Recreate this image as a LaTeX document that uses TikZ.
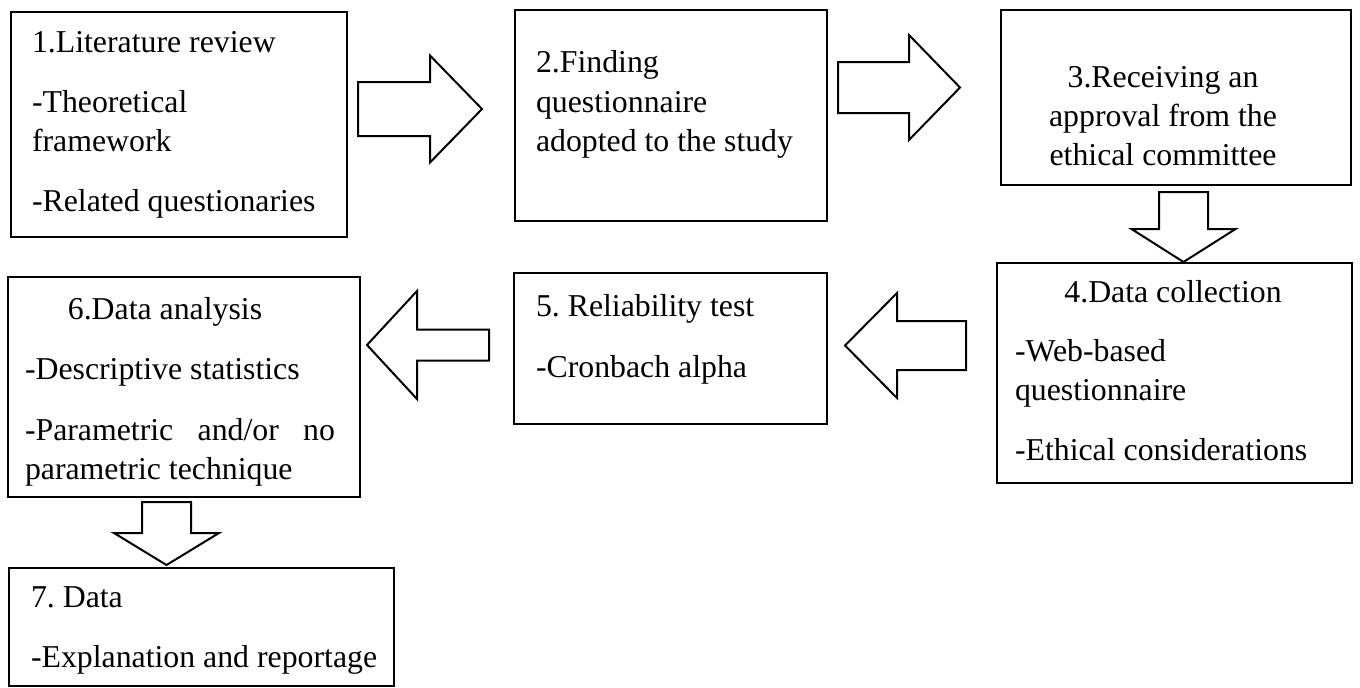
\documentclass[tikz,border=0pt]{standalone}
\usepackage{fontspec}
\setmainfont{Liberation Serif}
\usetikzlibrary{calc}
\frenchspacing

% Block arrow: #1 name, #2 tail, #3 tip, #4 shaft half-width,
% #5 head half-width, #6 head length
\newcommand{\flowblock}[6]{%
  \coordinate (#1h) at ($(#3)!#6!(#2)$);
  \draw[flowarrow] ($(#2)!#4!90:(#3)$) -- ($(#1h)!#4!90:(#3)$)
    -- ($(#1h)!#5!90:(#3)$) -- (#3) -- ($(#1h)!#5!-90:(#3)$)
    -- ($(#1h)!#4!-90:(#3)$) -- ($(#2)!#4!-90:(#3)$) -- cycle;
}

\begin{document}
\begin{tikzpicture}[x=1pt,y=-1pt,
  stepbox/.style={draw=black, line width=2.6pt, fill=none, inner sep=0pt,
    outer sep=0pt, rectangle},
  flowarrow/.style={draw=black, fill=white, line width=2pt, line join=miter},
  txt/.style={inner sep=0pt, outer sep=0pt, align=left, anchor=north west,
    font=\fontsize{31.8pt}{38.7pt}\selectfont\frenchspacing},
  ctxt/.style={txt, align=center, anchor=north}]
\useasboundingbox (0,0) rectangle (1360,688);

% process boxes
\node[stepbox, minimum width=336pt, minimum height=225pt] (b1) at (179,124.5) {};
\node[stepbox, minimum width=312pt, minimum height=211pt] (b2) at (671,115.5) {};
\node[stepbox, minimum width=350pt, minimum height=175pt] (b3) at (1176,97.5) {};
\node[stepbox, minimum width=355pt, minimum height=220pt] (b4) at (1174.5,373) {};
\node[stepbox, minimum width=313pt, minimum height=151pt] (b5) at (670.5,348.5) {};
\node[stepbox, minimum width=352pt, minimum height=220pt] (b6) at (184,387) {};
\node[stepbox, minimum width=385pt, minimum height=118pt] (b7) at (201.5,627) {};

% box texts (top of each node = first baseline - strut height)
\node[txt] (t1) at (32,25.9) {\strut 1.Literature review\\[21pt]
  -Theoretical\\ framework\\[21pt] -Related questionaries};
\node[txt] (t2) at (536,45.9) {\strut 2.Finding\\[0.6pt] questionnaire\\[0.6pt]
  adopted to the study};
\node[ctxt] (t3) at (1163,60.9) {\strut 3.Receiving an\\ approval from the\\
  ethical committee};
\node[ctxt] (t4a) at (1173,275.9) {\strut 4.Data collection};
\node[txt] (t4b) at (1015,334.9) {\strut -Web-based\\ questionnaire\\[21pt]
  -Ethical considerations};
\node[txt] (t5) at (536,289.9) {\strut 5. Reliability test\\[22pt] -Cronbach alpha};
\node[ctxt] (t6a) at (165,292.9) {\strut 6.Data analysis};
\node[txt] (t6b) at (25,352.9) {\strut -Descriptive statistics\\[22pt]
  \hbox to 310pt{-Parametric\hfill and/or\hfill no}\\ parametric technique};
\node[txt] (t7) at (31,580.9) {\strut 7. Data\\[21pt] -Explanation and reportage};

% arrow ends
\coordinate (a1s) at (358,109);    \coordinate (a1e) at (482,109);
\coordinate (a2s) at (838,87.5);   \coordinate (a2e) at (960,87.5);
\coordinate (a3s) at (1183.5,192); \coordinate (a3e) at (1183.5,262);
\coordinate (a4s) at (966,345.5);  \coordinate (a4e) at (845,345.5);
\coordinate (a5s) at (489,345);    \coordinate (a5e) at (367,345);
\coordinate (a6s) at (166.5,502);  \coordinate (a6e) at (166.5,565);

% block arrows between the steps
\flowblock{a1}{a1s}{a1e}{27pt}{53.5pt}{52pt}
\flowblock{a2}{a2s}{a2e}{25.5pt}{52.5pt}{51pt}
\flowblock{a3}{a3s}{a3e}{24.5pt}{52pt}{33pt}
\flowblock{a4}{a4s}{a4e}{24.5pt}{52.5pt}{52pt}
\flowblock{a5}{a5s}{a5e}{15.5pt}{54pt}{50pt}
\flowblock{a6}{a6s}{a6e}{24.5pt}{52.5pt}{32pt}
\end{tikzpicture}
\end{document}
